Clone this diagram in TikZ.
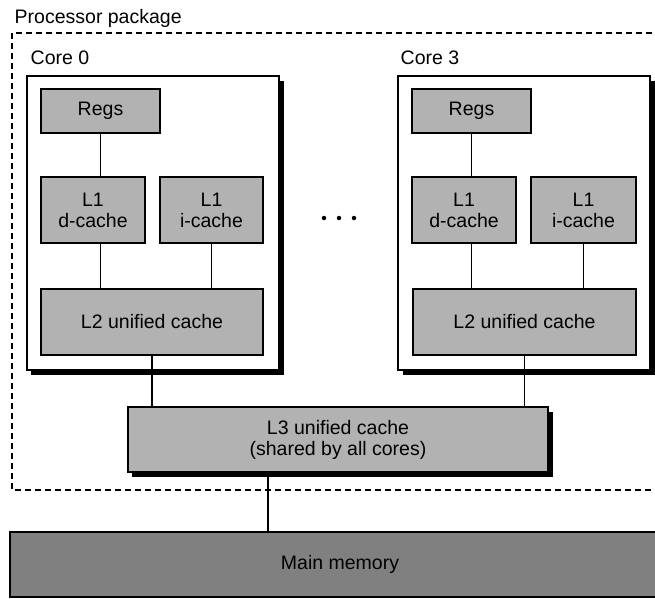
\documentclass[tikz,border=0pt]{standalone}
\usepackage{fontspec}
\setmainfont{Liberation Sans}
\usetikzlibrary{shadows}

\begin{document}
\begin{tikzpicture}[x=0.2mm,y=-0.2mm,line width=0.8pt,
   every node/.style={font=\fontsize{11.1}{12}\selectfont},
   lbl/.style={anchor=base west,inner sep=0pt},
   boxshadow/.style={drop shadow={shadow xshift=0.9mm,shadow yshift=-0.9mm,opacity=1,fill=black}},
   core/.style={draw,fill=white,boxshadow,minimum width=50.4mm,minimum height=58.8mm},
   cache/.style={draw,fill=black!30,align=center,inner sep=0pt,minimum height=13.2mm},
   link/.style={line width=0.6pt}]
  \clip (0,0) rectangle (655,598);
  \node[lbl] (title) at (14,23) {Processor package};
  \draw[dash pattern=on 1.2mm off 0.8mm] (12,33) rectangle (670,490);
  % core 0
  \node[core] (core0) at (153,223) {};
  \node[lbl] (core0lbl) at (30,64) {Core 0};
  \node[cache,minimum width=23.8mm,minimum height=8.8mm] (regs0) at (100.5,111) {Regs};
  \node[cache,minimum width=20.8mm] (l1d0) at (93,210) {L1\\d-cache};
  \node[cache,minimum width=20.6mm] (l1i0) at (211.5,210) {L1\\i-cache};
  \node[cache,minimum width=44.4mm] (l2c0) at (152,322) {L2 unified cache};
  % core 3
  \node[core] (core3) at (524,223) {};
  \node[lbl] (core3lbl) at (400,64) {Core 3};
  \node[cache,minimum width=23.8mm,minimum height=8.8mm] (regs3) at (471.5,111) {Regs};
  \node[cache,minimum width=20.8mm] (l1d3) at (464,210) {L1\\d-cache};
  \node[cache,minimum width=21mm] (l1i3) at (583.5,210) {L1\\i-cache};
  \node[cache,minimum width=44.6mm] (l2c3) at (524.5,322) {L2 unified cache};
  \foreach \dx in {324,339,354} \fill (\dx,218) circle (0.45mm);
  % shared levels
  \node[cache,boxshadow,minimum width=84mm,minimum height=13mm] (l3) at (338,439.5)
     {L3 unified cache\\(shared by all cores)};
  \node[cache,fill=black!50,minimum width=132mm,minimum height=13mm] (mem) at (340,564.5) {Main memory};
  \coordinate (tap) at (268,0);
  % links
  \draw[link] (regs0.south) -- (regs0.south |- l1d0.north);
  \draw[link] (regs0.south |- l1d0.south) -- (regs0.south |- l2c0.north);
  \draw[link] (l1i0.south) -- (l1i0.south |- l2c0.north);
  \draw[link] (l2c0.south) -- (l2c0.south |- l3.north);
  \draw[link] (regs3.south) -- (regs3.south |- l1d3.north);
  \draw[link] (regs3.south |- l1d3.south) -- (regs3.south |- l2c3.north);
  \draw[link] (l1i3.south) -- (l1i3.south |- l2c3.north);
  \draw[link] (l2c3.south) -- (l2c3.south |- l3.north);
  \draw[link] (tap |- l3.south) -- (tap |- mem.north);
\end{tikzpicture}
\end{document}
